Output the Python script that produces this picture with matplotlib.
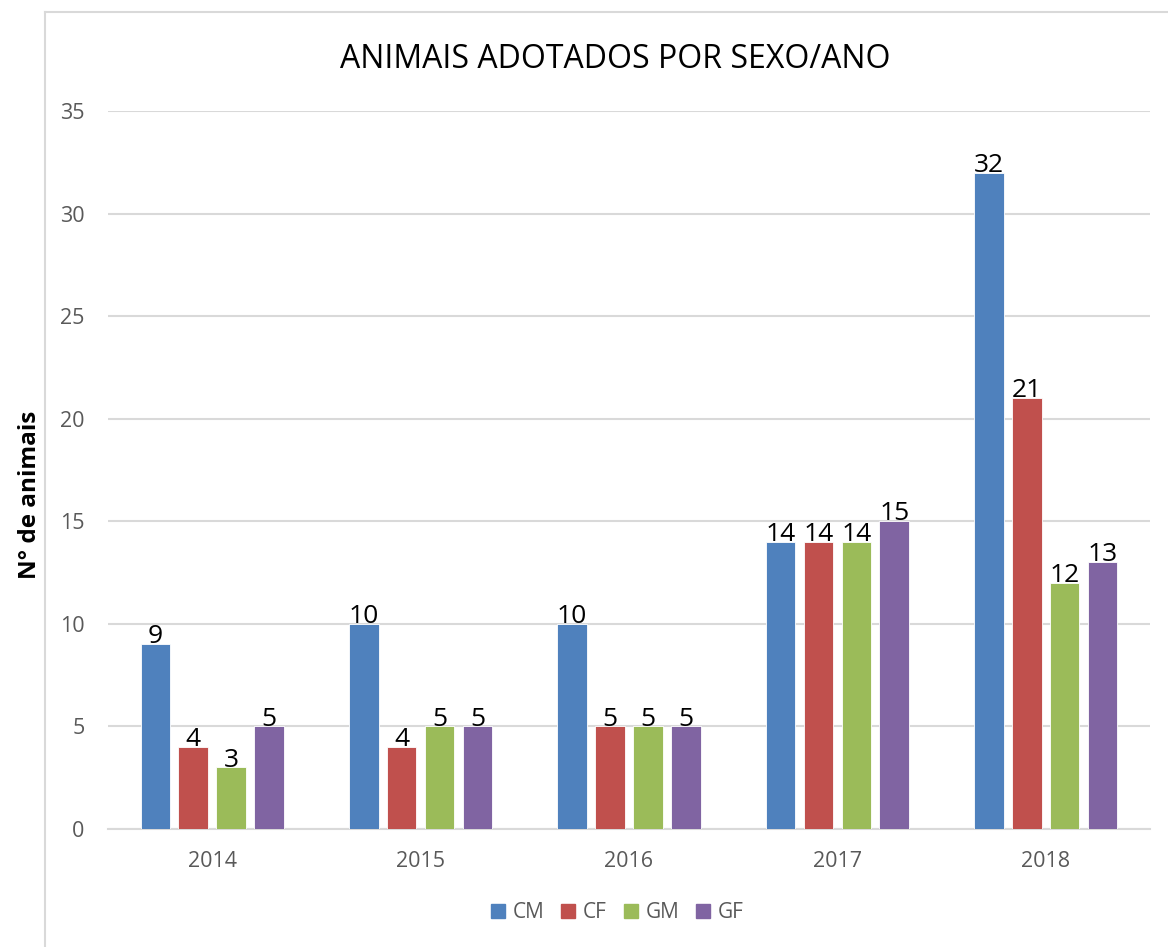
import matplotlib.pyplot as plt
import numpy as np
from matplotlib.lines import Line2D

plt.rcParams['font.family'] = ['Open Sans', 'DejaVu Sans']

# Data
years = ['2014', '2015', '2016', '2017', '2018']
series = ['CM', 'CF', 'GM', 'GF']
cm = [9, 10, 10, 14, 32]
cf = [4, 4, 5, 14, 21]
gm = [3, 5, 5, 14, 12]
gf = [5, 5, 5, 15, 13]
colors = ['#4F81BD', '#C0504D', '#9BBB59', '#8064A2']

fig = plt.figure(figsize=(11.68, 9.47), dpi=100)
ax = fig.add_axes([0.0925, 0.1246, 0.892, 0.7582])

x = np.arange(len(years))
step = 0.182
width = 0.142
for k, (vals, col) in enumerate(zip([cm, cf, gm, gf], colors)):
    pos = x + (k - 1.5) * step
    ax.bar(pos, vals, width, color=col, edgecolor='white', linewidth=0.6, zorder=3)
    for p, v in zip(pos, vals):
        ax.text(p, v - 0.25, str(v), ha='center', va='bottom', fontsize=19, color='black', zorder=4)

ax.set_xlim(-0.5, 4.5)
ax.set_ylim(0, 35)
ax.set_yticks(range(0, 36, 5))
ax.set_xticks(x)
ax.set_xticklabels(years)
ax.tick_params(axis='both', length=0, labelsize=15.5, labelcolor='#595959')
ax.tick_params(axis='y', pad=17)
ax.tick_params(axis='x', pad=16)
ax.grid(axis='y', color='#D9D9D9', linewidth=1.5, zorder=0)
for s in ['top', 'right', 'left']:
    ax.spines[s].set_visible(False)
ax.spines['bottom'].set_color('#D9D9D9')
ax.spines['bottom'].set_linewidth(1.5)

fig.text(0.527, 0.937, 'ANIMAIS ADOTADOS POR SEXO/ANO', ha='center', va='center', fontsize=23, color='black')
fig.text(0.026, 0.477, 'N° de animais', rotation=90, ha='center', va='center', fontsize=17.5, fontweight='bold')

# chart frame
fig.add_artist(Line2D([45/1168, 45/1168], [0, 1 - 12/947], transform=fig.transFigure, color='#D9D9D9', linewidth=1.5))
fig.add_artist(Line2D([45/1168, 1], [1 - 12/947, 1 - 12/947], transform=fig.transFigure, color='#D9D9D9', linewidth=1.5))

handles = [plt.Line2D([], [], marker='s', linestyle='', markersize=10, color=c) for c in colors]
leg = fig.legend(handles, series, loc='center', bbox_to_anchor=(0.528, 0.036), ncol=4, frameon=False,
                 fontsize=15, handletextpad=0.3, columnspacing=0.75, handlelength=0.8)
for t in leg.get_texts():
    t.set_color('#595959')

fig.savefig('out.png', dpi=100)
